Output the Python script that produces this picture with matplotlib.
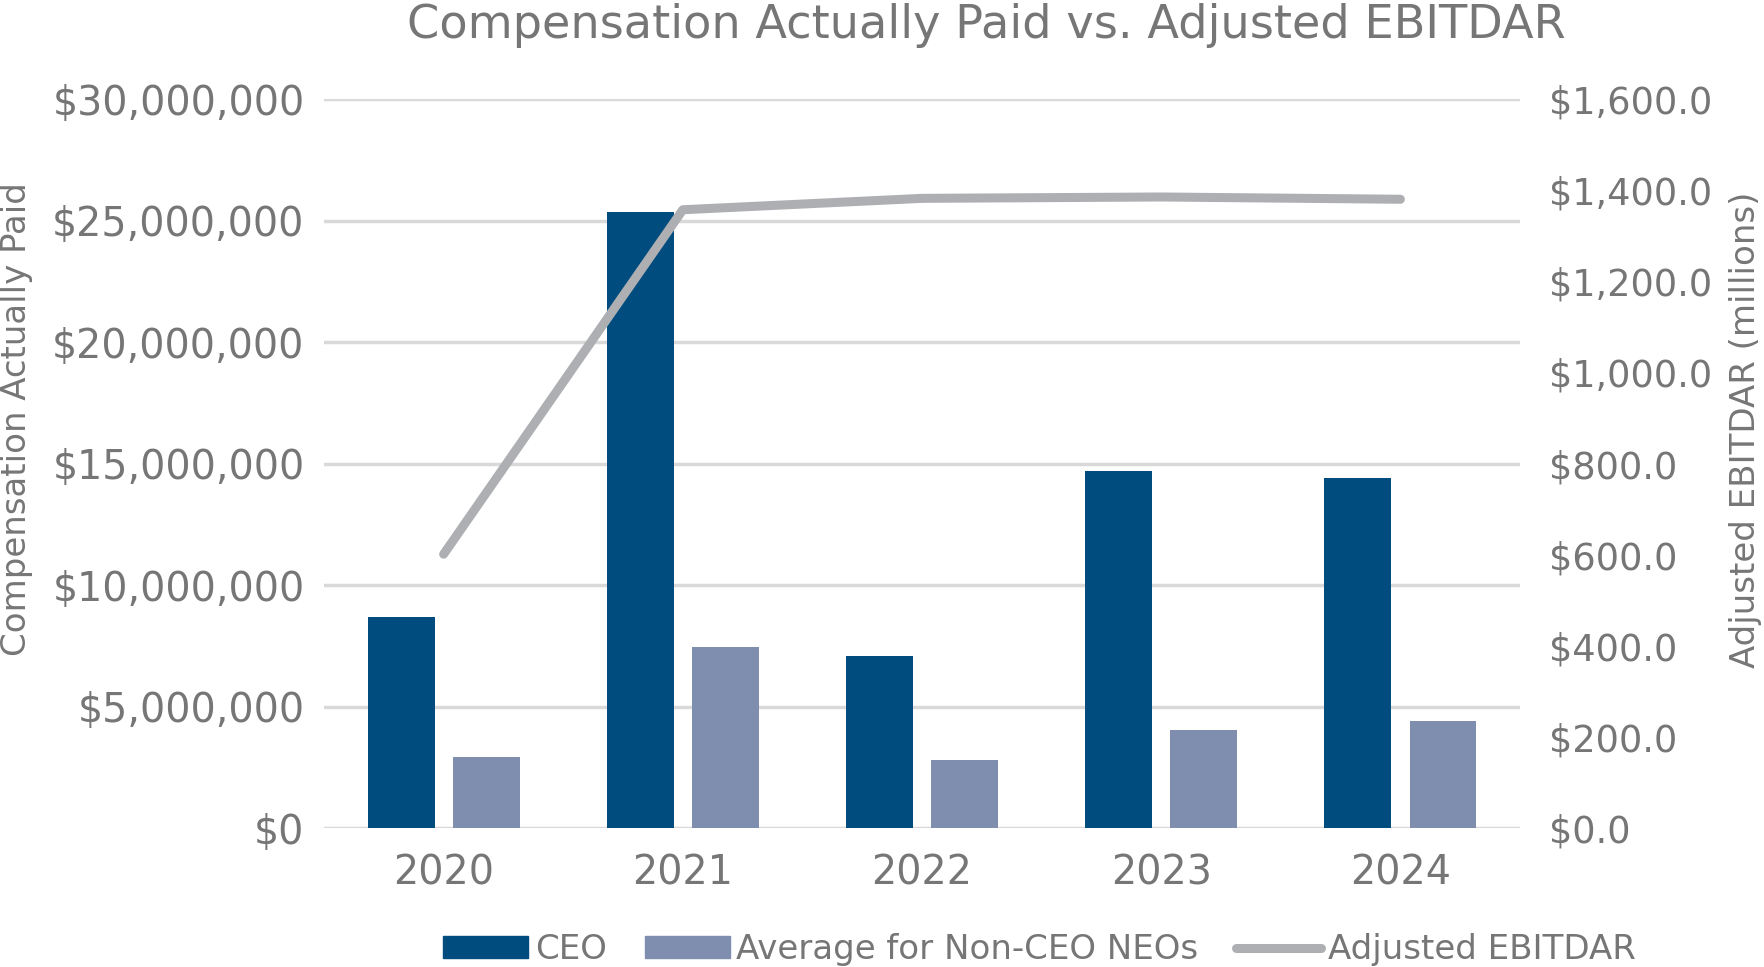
import matplotlib.pyplot as plt
from matplotlib.lines import Line2D
from matplotlib.patches import Patch
import numpy as np

plt.rcParams['font.family'] = ['DejaVu Sans']

years = ['2020', '2021', '2022', '2023', '2024']
ceo_cap = [8670000, 25360000, 7090000, 14700000, 14420000]
neo_cap = [2920000, 7460000, 2780000, 4030000, 4400000]
ebitdar = [601.0, 1357.0, 1382.0, 1385.0, 1380.0]

left_ticks = [0, 5000000, 10000000, 15000000, 20000000, 25000000, 30000000]
right_ticks = [0, 200, 400, 600, 800, 1000, 1200, 1400, 1600]

text_gray = '#767676'
ceo_color = '#004C7E'
neo_color = '#7F8DAE'
line_color = '#ADAFB2'
grid_color = '#D9D9D9'

fig = plt.figure(figsize=(17.65, 9.67), dpi=100)
ax = fig.add_axes([0.1836, 0.1437, 0.6776, 0.7539])
ax2 = ax.twinx()

x = np.arange(len(years))
w = 0.28
off = 0.178

ax.set_axisbelow(True)
for t in left_ticks:
    ax.axhline(t, color=grid_color, linewidth=2.5, zorder=0)

ax.bar(x - off, ceo_cap, width=w, color=ceo_color, zorder=2)
ax.bar(x + off, neo_cap, width=w, color=neo_color, zorder=2)
ax2.plot(x, ebitdar, color=line_color, linewidth=6.5, solid_capstyle='round', zorder=3)

ax.set_xlim(-0.5, 4.5)
ax.set_ylim(0, 30000000)
ax2.set_ylim(0, 1600)
ax.set_yticks(left_ticks)
ax.set_yticklabels(['${:,.0f}'.format(v) for v in left_ticks])
ax2.set_yticks(right_ticks)
ax2.set_yticklabels(['${:,.1f}'.format(v) for v in right_ticks])
ax.set_xticks(x)
ax.set_xticklabels(years)

for a in (ax, ax2):
    for s in a.spines.values():
        s.set_visible(False)
    a.tick_params(length=0, colors=text_gray)
ax.tick_params(axis='y', labelsize=28.5, pad=14)
ax.tick_params(axis='x', labelsize=28.5, pad=18)
ax2.tick_params(axis='y', labelsize=26.5, pad=21)

fig.text(0.559, 0.974, 'Compensation Actually Paid vs. Adjusted EBITDAR',
         ha='center', va='center', fontsize=33.3, color=text_gray)
fig.text(0.0096, 0.567, 'Compensation Actually Paid', rotation=90,
         ha='center', va='center', fontsize=24.5, color=text_gray)
fig.text(0.989, 0.556, 'Adjusted EBITDAR (millions)', rotation=90,
         ha='center', va='center', fontsize=24.5, color=text_gray)

handles = [Patch(color=ceo_color), Patch(color=neo_color),
           Line2D([0], [0], color=line_color, linewidth=6.5, solid_capstyle='round')]
labels = ['CEO', 'Average for Non-CEO NEOs', 'Adjusted EBITDAR']
fig.legend(handles, labels, loc='center', bbox_to_anchor=(0.589, 0.018), ncol=3,
           frameon=False, fontsize=24.5, labelcolor=text_gray, handlelength=2.5,
           handleheight=0.6, handletextpad=0.2, columnspacing=1.1)

fig.savefig('out.png', dpi=100)
